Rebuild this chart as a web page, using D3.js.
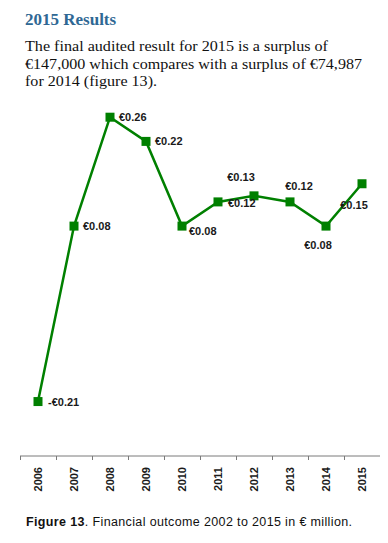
<!DOCTYPE html>
<html>
<head>
<meta charset="utf-8">
<script src="https://cdn.jsdelivr.net/npm/d3@7"></script>
<style>
  body { margin: 0; background: #fff; }
  svg { display: block; }
</style>
</head>
<body>
<div id="chart"></div>
<script>
// Chart data
const years = ["2006", "2007", "2008", "2009", "2010", "2011", "2012", "2013", "2014", "2015"];
const outcome = [-0.21, 0.08, 0.26, 0.22, 0.08, 0.12, 0.13, 0.12, 0.08, 0.15];
const valueLabels = ["-€0.21", "€0.08", "€0.26", "€0.22", "€0.08", "€0.12", "€0.13", "€0.12", "€0.08", "€0.15"];

// Where each value label sits relative to its marker: [dx, dy, anchor]
const labelPlace = [
    [10, 4, "start"], [9, 4, "start"], [9, 4, "start"], [9, 4, "start"], [7, 9, "start"],
    [10, 5, "start"], [-13, -15, "middle"], [9, -12, "middle"], [-8, 23, "middle"], [-8, 25, "middle"]
];

const width = 388;
const height = 543;
const green = "#008000";

const svg = d3.select("#chart").append("svg")
    .attr("width", width)
    .attr("height", height);

// Heading and paragraph
svg.append("text")
    .attr("x", 25).attr("y", 25)
    .attr("font-family", "'Liberation Serif', 'Times New Roman', serif")
    .attr("font-weight", "bold")
    .attr("font-size", 17)
    .attr("fill", "#2f6894")
    .text("2015 Results");

const para = [
    ["The final audited result for 2015 is a surplus of", 303],
    ["€147,000 which compares with a surplus of €74,987", 337],
    ["for 2014 (figure 13).", 132]
];
svg.selectAll("text.para")
    .data(para)
    .enter()
    .append("text")
    .attr("class", "para")
    .attr("x", 25)
    .attr("y", (d, i) => 51 + i * 17.5)
    .attr("font-family", "'Liberation Serif', 'Times New Roman', serif")
    .attr("font-size", 15)
    .attr("fill", "#111")
    .attr("textLength", d => d[1])
    .attr("lengthAdjust", "spacingAndGlyphs")
    .text(d => d[0]);

// Scales
const x = d3.scaleBand()
    .domain(years)
    .range([20, 380]);

const y = d3.scaleLinear()
    .domain([-0.3, 0.3])
    .range([456, 93]);

const cx = d => x(d) + x.bandwidth() / 2;

// Category axis
const axisY = y(-0.3);
svg.append("line")
    .attr("x1", 20).attr("x2", 380)
    .attr("y1", axisY).attr("y2", axisY)
    .attr("stroke", "#7a7a7a")
    .attr("stroke-width", 1);

svg.selectAll("line.tick")
    .data(years)
    .enter()
    .append("line")
    .attr("class", "tick")
    .attr("x1", d => Math.round(x(d)) + 0.5)
    .attr("x2", d => Math.round(x(d)) + 0.5)
    .attr("y1", axisY)
    .attr("y2", axisY + 4)
    .attr("stroke", "#7a7a7a");

svg.selectAll("text.year")
    .data(years)
    .enter()
    .append("text")
    .attr("class", "year")
    .attr("transform", d => `translate(${cx(d) + 4},${axisY + 11}) rotate(-90)`)
    .attr("text-anchor", "end")
    .attr("font-family", "'Liberation Sans', Arial, sans-serif")
    .attr("font-weight", "bold")
    .attr("font-size", 11)
    .attr("fill", "#1a1a1a")
    .text(d => d);

// Line and markers
const pts = years.map((d, i) => ({ year: d, value: outcome[i], label: valueLabels[i], place: labelPlace[i] }));

svg.append("path")
    .datum(pts)
    .attr("fill", "none")
    .attr("stroke", green)
    .attr("stroke-width", 2.5)
    .attr("d", d3.line().x(d => cx(d.year)).y(d => y(d.value)));

svg.selectAll("rect.marker")
    .data(pts)
    .enter()
    .append("rect")
    .attr("class", "marker")
    .attr("x", d => cx(d.year) - 4.5)
    .attr("y", d => y(d.value) - 4.5)
    .attr("width", 9)
    .attr("height", 9)
    .attr("fill", green);

svg.selectAll("text.vlabel")
    .data(pts)
    .enter()
    .append("text")
    .attr("class", "vlabel")
    .attr("x", d => cx(d.year) + d.place[0])
    .attr("y", d => y(d.value) + d.place[1])
    .attr("text-anchor", d => d.place[2])
    .attr("font-family", "'Liberation Sans Narrow', 'Arial Narrow', 'Liberation Sans', sans-serif")
    .attr("font-weight", "bold")
    .attr("font-size", 11)
    .attr("fill", "#1a1a1a")
    .text(d => d.label);

// Caption
const cap = svg.append("text")
    .attr("x", 26).attr("y", 526)
    .attr("font-family", "'Liberation Sans', Arial, sans-serif")
    .attr("font-size", 12.5)
    .attr("fill", "#111")
    .attr("textLength", 326)
    .attr("lengthAdjust", "spacing");
cap.append("tspan").attr("font-weight", "bold").text("Figure 13");
cap.append("tspan").text(".  Financial outcome 2002 to 2015 in € million.");
</script>
</body>
</html>
